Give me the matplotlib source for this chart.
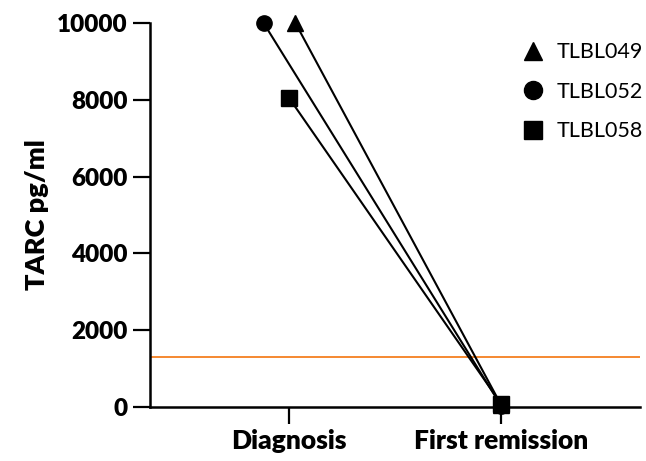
import matplotlib
matplotlib.use("Agg")
import matplotlib.pyplot as plt
from matplotlib.lines import Line2D

categories = ["Diagnosis", "First remission"]
patients = ["TLBL049", "TLBL052", "TLBL058"]
markers = ["^", "o", "s"]
diag_offsets = [0.03, -0.12, 0.0]
tarc_diagnosis = [10000, 10000, 8050]
tarc_remission = [50, 30, 80]
threshold = 1300
yticks = [0, 2000, 4000, 6000, 8000, 10000]

plt.rcParams['font.family'] = ['Lato', 'DejaVu Sans']

fig = plt.figure(figsize=(6.46, 4.61), dpi=100)
ax = fig.add_axes([0.232, 0.117, 0.759, 0.833])

for name, m, off, d, r in zip(patients, markers, diag_offsets, tarc_diagnosis, tarc_remission):
    ax.plot([0 + off, 1], [d, r], color='black', lw=1.5, marker=m,
            markersize=11 if m != '^' else 12, markerfacecolor='black',
            markeredgecolor='black', clip_on=False, zorder=3)

ax.axhline(threshold, color='#F47F20', lw=1.3, zorder=2)

ax.set_xlim(-0.656, 1.655)
ax.set_ylim(0, 10000)
ax.set_xticks([0, 1])
ax.set_xticklabels(categories, fontsize=19, fontweight='heavy')
ax.set_yticks(yticks)
ax.set_yticklabels([str(v) for v in yticks], fontsize=17.5, fontweight='heavy')
ax.set_ylabel("TARC pg/ml", fontsize=19.5, fontweight='heavy', labelpad=6)

for s in ['top', 'right']:
    ax.spines[s].set_visible(False)
for s in ['left', 'bottom']:
    ax.spines[s].set_linewidth(1.8)
ax.tick_params(axis='both', length=12, width=1.6, pad=4)

handles = [Line2D([], [], ls='none', marker=m, color='black', markersize=13) for m in markers]
ax.legend(handles, patients, loc='upper right', bbox_to_anchor=(1.045, 1.0),
          frameon=False, fontsize=15.5, handlelength=1.0, handletextpad=0.6,
          labelspacing=0.9)

fig.savefig("out.png", dpi=100)
